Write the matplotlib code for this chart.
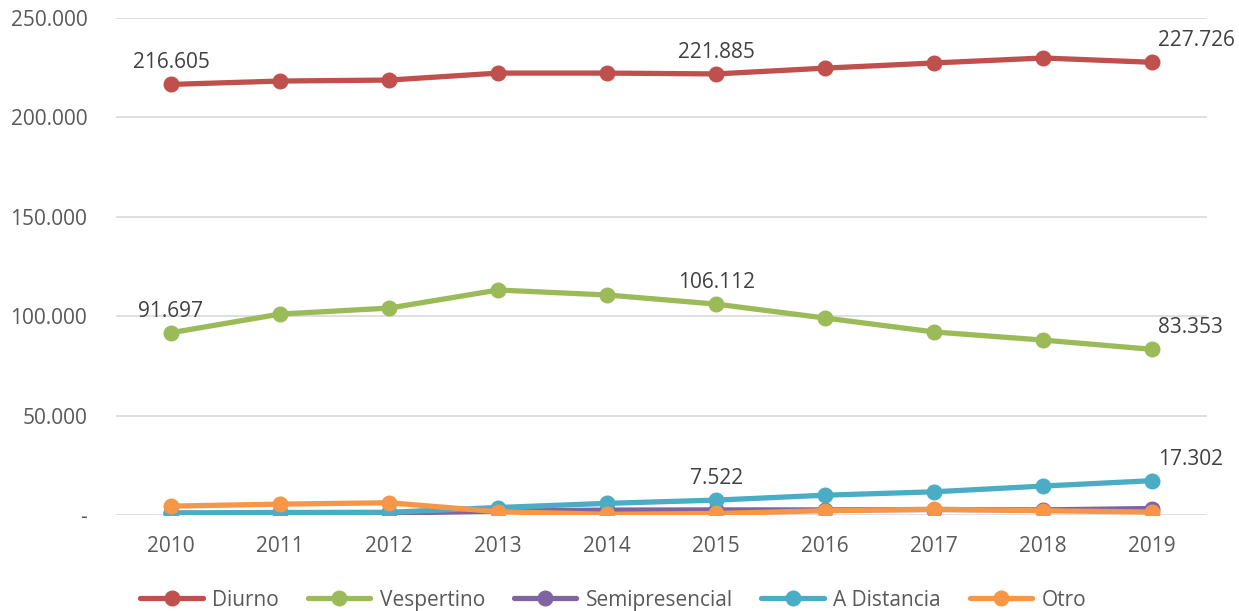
import matplotlib
matplotlib.use("Agg")
import matplotlib.pyplot as plt
from matplotlib.ticker import FuncFormatter

years = ["2010", "2011", "2012", "2013", "2014", "2015", "2016", "2017", "2018", "2019"]
diurno = [216605, 218300, 218800, 222300, 222300, 221885, 224800, 227400, 229900, 227726]
vespertino = [91697, 101100, 104100, 113200, 110700, 106112, 99100, 92100, 88000, 83353]
semipresencial = [800, 900, 1000, 2000, 2500, 2600, 2600, 2800, 2600, 3300]
a_distancia = [1100, 1300, 1400, 3800, 5900, 7522, 10000, 11700, 14600, 17302]
otro = [4500, 5500, 6200, 1700, 400, 800, 2200, 2900, 2200, 1500]

series = [
    ("Diurno", diurno, "#C0504D"),
    ("Vespertino", vespertino, "#9BBB59"),
    ("Semipresencial", semipresencial, "#8064A2"),
    ("A Distancia", a_distancia, "#4BACC6"),
    ("Otro", otro, "#F79646"),
]

# labelled points: (series index, point index, placement)
labels = [
    (0, 0, "above"), (0, 5, "above"), (0, 9, "right"),
    (1, 0, "above"), (1, 5, "above"), (1, 9, "right"),
    (3, 5, "above"), (3, 9, "right"),
]

plt.rcParams['font.family'] = ['Open Sans', 'DejaVu Sans']
FS = 15

fig = plt.figure(figsize=(12.39, 6.11), dpi=100)
ax = fig.add_axes([0.094, 0.157, 0.880, 0.8135])

x = list(range(len(years)))
for name, vals, col in series:
    ax.plot(x, vals, color=col, lw=3.8, marker="o", ms=10.5, label=name,
            solid_capstyle="round", zorder=3)

def fmt(v):
    return f"{v:,.0f}".replace(",", ".")

for si, pi, place in labels:
    v = series[si][1][pi]
    if place == "above":
        ax.annotate(fmt(v), (pi, v), xytext=(0, 8), textcoords="offset points",
                    ha="center", va="bottom", fontsize=FS, color="#404040", zorder=5)
    else:
        ax.annotate(fmt(v), (pi, v), xytext=(4, 8), textcoords="offset points",
                    ha="left", va="bottom", fontsize=FS, color="#404040", zorder=5)

ax.set_xlim(-0.5, len(years) - 0.5)
ax.set_ylim(0, 250000)
ax.set_yticks([0, 50000, 100000, 150000, 200000, 250000])
ax.yaxis.set_major_formatter(FuncFormatter(lambda v, p: "-" if v == 0 else fmt(v)))
ax.set_xticks(x)
ax.set_xticklabels(years)
ax.grid(axis="y", color="#D9D9D9", lw=1.2, zorder=0)
for s in ax.spines.values():
    s.set_visible(False)
ax.tick_params(axis="both", length=0, labelsize=FS, colors="#595959")
ax.tick_params(axis="y", pad=21)
ax.tick_params(axis="x", pad=15)

leg = ax.legend(loc="upper left", bbox_to_anchor=(0.022, -0.15), ncol=5, frameon=False,
                fontsize=FS, handlelength=3.0, columnspacing=1.38, handletextpad=0.45,
                borderaxespad=0, borderpad=0)
for t in leg.get_texts():
    t.set_color("#595959")

fig.savefig("out.png", dpi=100)
